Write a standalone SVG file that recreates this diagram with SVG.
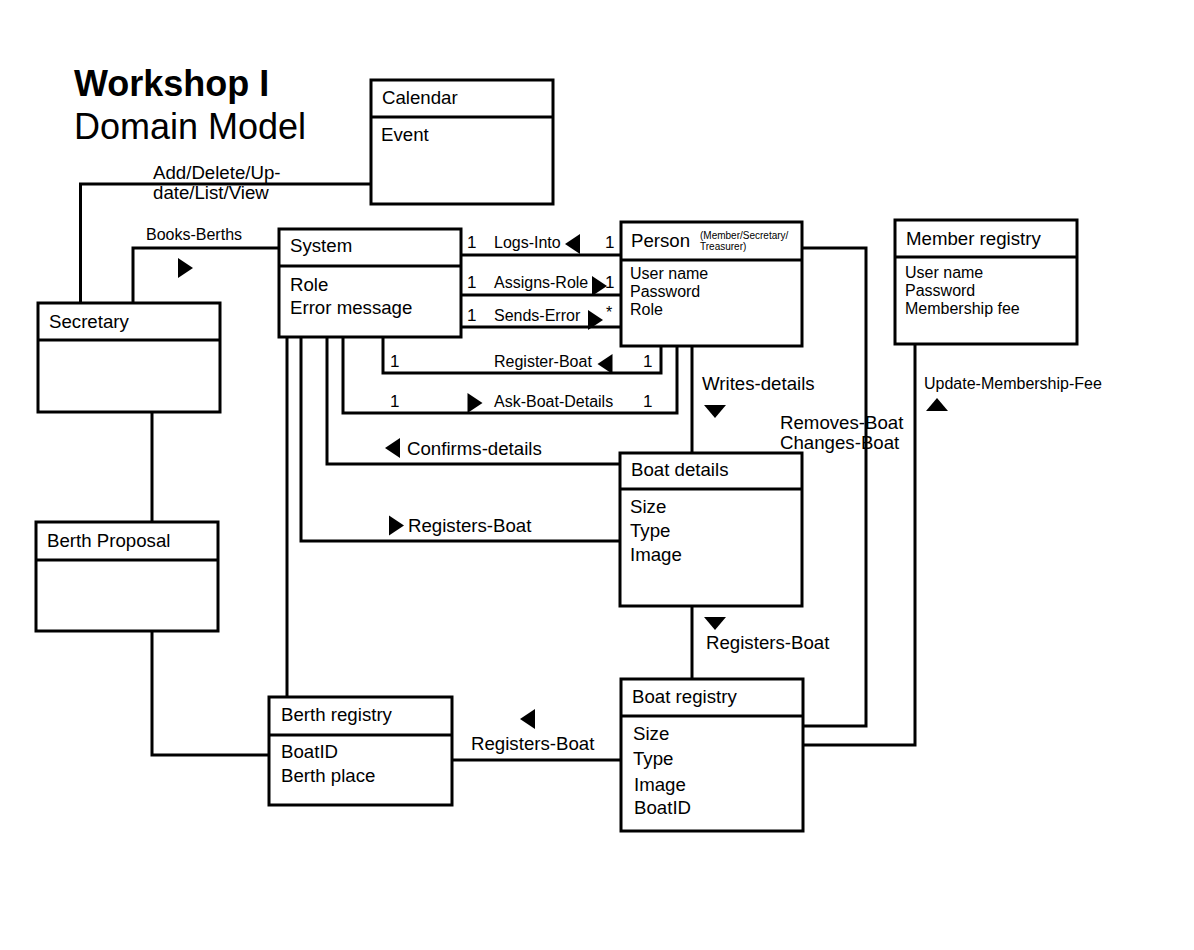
<svg xmlns="http://www.w3.org/2000/svg" xmlns:xlink="http://www.w3.org/1999/xlink" width="1194" height="950" viewBox="0 0 1194 950">
<style>
text{font-family:"Liberation Sans",Arial,sans-serif;fill:#000}
.t{font-size:18.67px}
.s{font-size:16px}
.xs{font-size:10px}
.n{font-size:17px}
.box{fill:#fff;stroke:#000;stroke-width:3}
.con{fill:none;stroke:#000;stroke-width:3}
.tri{fill:#000;stroke:none}
</style>
<defs>
<path id="triR" class="tri" d="M-7.5,-10 L7.5,0 L-7.5,10 Z"/>
<path id="triL" class="tri" d="M7.5,-10 L-7.5,0 L7.5,10 Z"/>
<path id="triD" class="tri" d="M-11,-6.5 L11,-6.5 L0,6.5 Z"/>
<path id="triU" class="tri" d="M-11,6.5 L11,6.5 L0,-6.5 Z"/>
</defs>
<rect width="1194" height="950" fill="#fff"/>
<g id="title">
<text x="74" y="96" style="font-size:36px;font-weight:bold">Workshop I</text>
<text x="74" y="139" style="font-size:36px">Domain Model</text>
</g>
<g id="connectors">
<path class="con" d="M80.5,303 V184 H371"/>
<path class="con" d="M133,303 V248 H279"/>
<path class="con" d="M152,412 V522"/>
<path class="con" d="M152,631 V755 H269"/>
<path class="con" d="M461,255 H620"/>
<path class="con" d="M461,295 H620"/>
<path class="con" d="M461,327 H620"/>
<path class="con" d="M383,337 V373 H661 V346"/>
<path class="con" d="M343,337 V413 H677 V346"/>
<path class="con" d="M327,337 V464 H620"/>
<path class="con" d="M301,337 V541 H620"/>
<path class="con" d="M287,337 V697"/>
<path class="con" d="M692,346 V453"/>
<path class="con" d="M692,606 V679"/>
<path class="con" d="M802,248 H866 V726 H803"/>
<path class="con" d="M915,344 V745 H803"/>
<path class="con" d="M452,760 H621"/>
<use xlink:href="#triR" x="185.5" y="268"/>
<use xlink:href="#triL" x="572.5" y="244"/>
<use xlink:href="#triR" x="599.5" y="286"/>
<use xlink:href="#triR" x="595.5" y="320"/>
<use xlink:href="#triL" x="605" y="364"/>
<use xlink:href="#triR" x="475" y="403"/>
<use xlink:href="#triL" x="392.5" y="448"/>
<use xlink:href="#triR" x="396.5" y="525.5"/>
<use xlink:href="#triL" x="527.5" y="719"/>
<use xlink:href="#triD" x="715" y="411.5"/>
<use xlink:href="#triD" x="715" y="623.5"/>
<use xlink:href="#triU" x="937" y="404.5"/>
<text class="t" x="153" y="179">Add/Delete/Up-</text>
<text class="t" x="153" y="199">date/List/View</text>
<text class="s" x="146" y="240">Books-Berths</text>
<text class="n" x="467" y="248">1</text>
<text class="s" x="494" y="248">Logs-Into</text>
<text class="n" x="605" y="248">1</text>
<text class="n" x="467" y="288">1</text>
<text class="s" x="494" y="288">Assigns-Role</text>
<text class="n" x="605" y="288">1</text>
<text class="n" x="467" y="321">1</text>
<text class="s" x="494" y="321">Sends-Error</text>
<text class="s" x="606" y="318">*</text>
<text class="n" x="390" y="367">1</text>
<text class="s" x="494" y="367">Register-Boat</text>
<text class="n" x="643" y="367">1</text>
<text class="n" x="390" y="407">1</text>
<text class="s" x="494" y="407">Ask-Boat-Details</text>
<text class="n" x="643" y="407">1</text>
<text class="t" x="407" y="455">Confirms-details</text>
<text class="t" x="408" y="532">Registers-Boat</text>
<text class="t" x="702" y="390">Writes-details</text>
<text class="t" x="780" y="429">Removes-Boat</text>
<text class="t" x="780" y="449">Changes-Boat</text>
<text class="t" x="706" y="649">Registers-Boat</text>
<text class="s" x="924" y="389">Update-Membership-Fee</text>
<text class="t" x="471" y="750">Registers-Boat</text>
</g>
<g id="calendar">
<rect class="box" x="371" y="80" width="182" height="124"/>
<line class="con" x1="371" y1="117" x2="553" y2="117"/>
<text class="t" x="382" y="104">Calendar</text>
<text class="t" x="381" y="141">Event</text>
</g>
<g id="system">
<rect class="box" x="279" y="229" width="182" height="108"/>
<line class="con" x1="279" y1="266" x2="461" y2="266"/>
<text class="t" x="290" y="252">System</text>
<text class="t" x="290" y="291">Role</text>
<text class="t" x="290" y="314">Error message</text>
</g>
<g id="person">
<rect class="box" x="621" y="222" width="181" height="124"/>
<line class="con" x1="621" y1="260" x2="802" y2="260"/>
<text class="t" x="631" y="247">Person</text>
<text class="xs" x="700" y="239">(Member/Secretary/</text>
<text class="xs" x="700" y="250">Treasurer)</text>
<text class="s" x="630" y="279">User name</text>
<text class="s" x="630" y="297">Password</text>
<text class="s" x="630" y="315">Role</text>
</g>
<g id="member-registry">
<rect class="box" x="895" y="220" width="182" height="124"/>
<line class="con" x1="895" y1="257" x2="1077" y2="257"/>
<text class="t" x="906" y="245">Member registry</text>
<text class="s" x="905" y="278">User name</text>
<text class="s" x="905" y="296">Password</text>
<text class="s" x="905" y="314">Membership fee</text>
</g>
<g id="secretary">
<rect class="box" x="38" y="303" width="182" height="109"/>
<line class="con" x1="38" y1="340" x2="220" y2="340"/>
<text class="t" x="49" y="328">Secretary</text>
</g>
<g id="berth-proposal">
<rect class="box" x="36" y="522" width="182" height="109"/>
<line class="con" x1="36" y1="560" x2="218" y2="560"/>
<text class="t" x="47" y="547">Berth Proposal</text>
</g>
<g id="boat-details">
<rect class="box" x="620" y="453" width="182" height="153"/>
<line class="con" x1="620" y1="489" x2="802" y2="489"/>
<text class="t" x="631" y="476">Boat details</text>
<text class="t" x="630" y="513">Size</text>
<text class="t" x="630" y="537">Type</text>
<text class="t" x="630" y="561">Image</text>
</g>
<g id="berth-registry">
<rect class="box" x="269" y="697" width="183" height="108"/>
<line class="con" x1="269" y1="735" x2="452" y2="735"/>
<text class="t" x="281" y="721">Berth registry</text>
<text class="t" x="281" y="758">BoatID</text>
<text class="t" x="281" y="782">Berth place</text>
</g>
<g id="boat-registry">
<rect class="box" x="621" y="679" width="182" height="152"/>
<line class="con" x1="621" y1="716" x2="803" y2="716"/>
<text class="t" x="632" y="703">Boat registry</text>
<text class="t" x="633" y="740">Size</text>
<text class="t" x="633" y="765">Type</text>
<text class="t" x="634" y="791">Image</text>
<text class="t" x="634" y="814">BoatID</text>
</g>
</svg>
